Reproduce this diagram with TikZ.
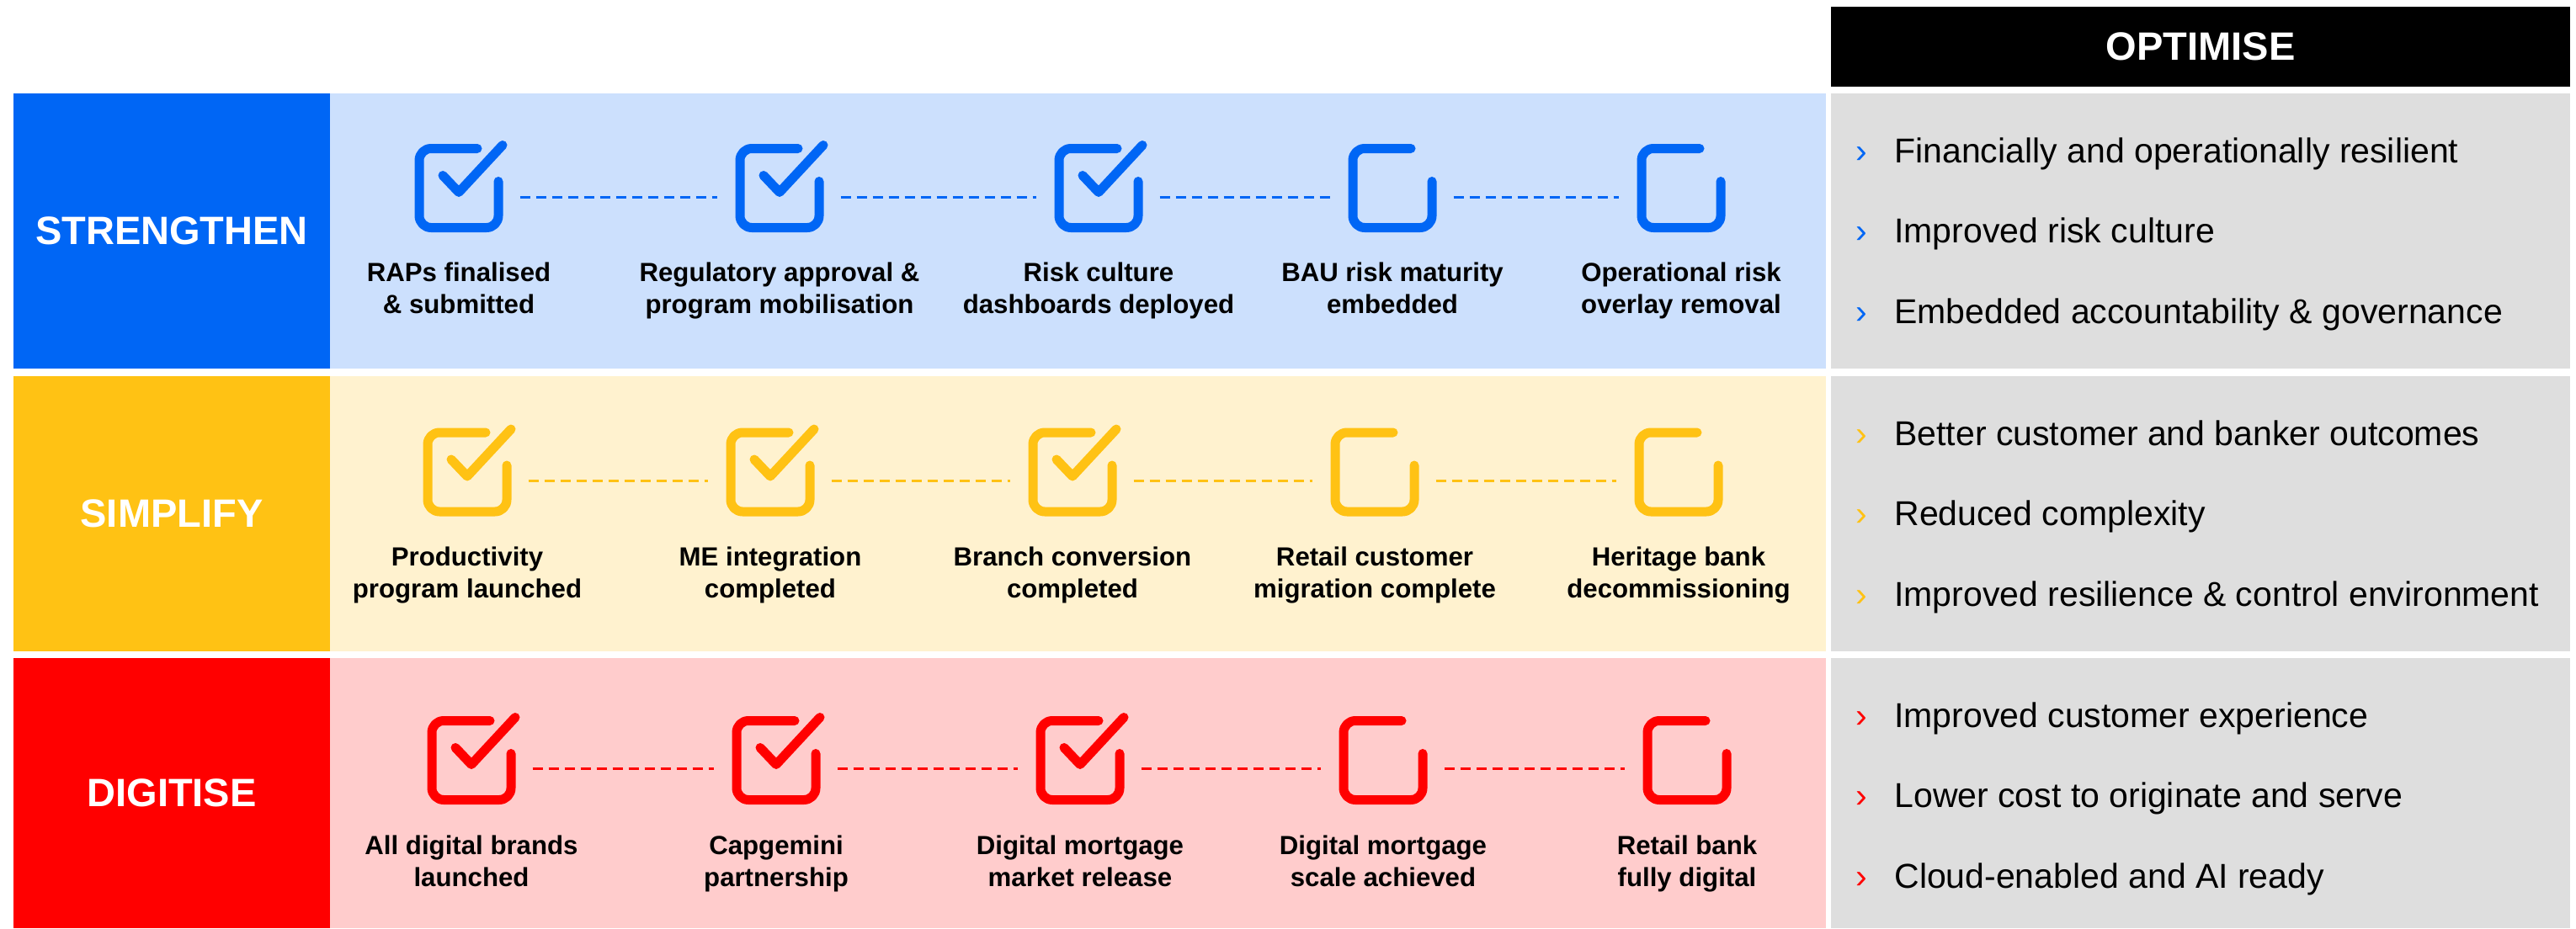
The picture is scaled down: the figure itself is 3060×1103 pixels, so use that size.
\documentclass[tikz,border=0pt]{standalone}
\usepackage{fontspec}
\setmainfont{Liberation Sans}
\usetikzlibrary{positioning}

\definecolor{strblue}{HTML}{0066F5}
\definecolor{strlight}{HTML}{CCE0FD}
\definecolor{simyellow}{HTML}{FFC214}
\definecolor{simlight}{HTML}{FFF2CF}
\definecolor{digred}{HTML}{FF0000}
\definecolor{diglight}{HTML}{FFCCCC}
\definecolor{optgrey}{HTML}{DEDEDE}

\def\msfont{\fontsize{15.6pt}{19pt}\selectfont\bfseries}
\def\bulletfont{\fontsize{20.5pt}{24pt}\selectfont}
\def\headfont{\fontsize{23.5pt}{28pt}\selectfont\bfseries}

\begin{document}
\begin{tikzpicture}[x=0.5pt,y=-0.5pt]
	\tikzstyle{head}=[inner sep=0pt, outer sep=0pt, text=white, font=\headfont]
	\tikzstyle{band}=[inner sep=0pt, outer sep=0pt, minimum width=888.5pt]
	\tikzstyle{goal}=[inner sep=0pt, outer sep=0pt, fill=optgrey, minimum width=439pt]
	\tikzstyle{mstone}=[inner sep=0pt, outer sep=0pt, minimum size=52.5pt]
	\tikzstyle{boxline}=[line width=5.5pt, line cap=round, line join=round, rounded corners=7pt]
	\tikzstyle{tick}=[line width=5.5pt, line cap=round, line join=round]
	\tikzstyle{dashline}=[line width=1.5pt, dash pattern=on 6pt off 3.5pt]
	\tikzstyle{mlabel}=[inner sep=0pt, anchor=north, align=center, font=\msfont]
	\tikzstyle{chev}=[inner sep=0pt, anchor=base west, font=\bulletfont]
	\tikzstyle{goaltext}=[inner sep=0pt, anchor=base west, font=\bulletfont]

	\useasboundingbox (0,0) rectangle (3060,1103);

	% Header over the goal column
	\node[head, fill=black, minimum width=439pt, minimum height=47.5pt] (OPT) at (2614,55.5) {OPTIMISE};

	% Row labels
	\node[head, fill=strblue, minimum width=188pt, minimum height=163.5pt] (L-1) at (204,274.5) {STRENGTHEN};
	\node[head, fill=simyellow, minimum width=188pt, minimum height=163.5pt] (L-2) at (204,610.5) {SIMPLIFY};
	\node[head, fill=digred, minimum width=188pt, minimum height=160.5pt] (L-3) at (204,942.5) {DIGITISE};

	% Milestone bands
	\node[band, fill=strlight, minimum height=163.5pt] (B-1) at (1280.5,274.5) {};
	\node[band, fill=simlight, minimum height=163.5pt] (B-2) at (1280.5,610.5) {};
	\node[band, fill=diglight, minimum height=160.5pt] (B-3) at (1280.5,942.5) {};

	% Goal panels
	\node[goal, minimum height=163.5pt] (G-1) at (2614,274.5) {};
	\node[goal, minimum height=163.5pt] (G-2) at (2614,610.5) {};
	\node[goal, minimum height=160.5pt] (G-3) at (2614,942.5) {};

	% Strengthen milestones
	\foreach \i/\x/\txt in {1/545/{RAPs finalised\\\& submitted}, 2/926/{Regulatory approval \&\\program mobilisation}, 3/1305/{Risk culture\\dashboards deployed}, 4/1654/{BAU risk maturity\\embedded}, 5/1997/{Operational risk\\overlay removal}}{
		\node[mstone] (S-\i) at (\x,223.5) {};
		\draw[boxline, strblue, shift={(S-\i.center)}] (22,-47) -- (-47,-47) -- (-47,47) -- (47,47) -- (47,-8);
		\ifnum\i<4
		\draw[tick, strblue, shift={(S-\i.center)}] (-19,-15) -- (0,5) -- (52,-51);
		\fi
		\node[mlabel] (SL-\i) at (\x,311) {\txt};
	}
	\foreach \i/\j in {1/2,2/3,3/4,4/5}
	\draw[dashline, strblue] ([shift={(20,11)}]S-\i.east) -- ([shift={(-22,11)}]S-\j.west);

	% Simplify milestones
	\foreach \i/\x/\txt in {1/555/{Productivity\\program launched}, 2/915/{ME integration\\completed}, 3/1274/{Branch conversion\\completed}, 4/1633/{Retail customer\\migration complete}, 5/1994/{Heritage bank\\decommissioning}}{
		\node[mstone] (Y-\i) at (\x,561) {};
		\draw[boxline, simyellow, shift={(Y-\i.center)}] (22,-47) -- (-47,-47) -- (-47,47) -- (47,47) -- (47,-8);
		\ifnum\i<4
		\draw[tick, simyellow, shift={(Y-\i.center)}] (-19,-15) -- (0,5) -- (52,-51);
		\fi
		\node[mlabel] (YL-\i) at (\x,649) {\txt};
	}
	\foreach \i/\j in {1/2,2/3,3/4,4/5}
	\draw[dashline, simyellow] ([shift={(20,10)}]Y-\i.east) -- ([shift={(-22,10)}]Y-\j.west);

	% Digitise milestones
	\foreach \i/\x/\txt in {1/560/{All digital brands\\launched}, 2/922/{Capgemini\\partnership}, 3/1283/{Digital mortgage\\market release}, 4/1643/{Digital mortgage\\scale achieved}, 5/2004/{Retail bank\\fully digital}}{
		\node[mstone] (D-\i) at (\x,903.5) {};
		\draw[boxline, digred, shift={(D-\i.center)}] (22,-47) -- (-47,-47) -- (-47,47) -- (47,47) -- (47,-8);
		\ifnum\i<4
		\draw[tick, digred, shift={(D-\i.center)}] (-19,-15) -- (0,5) -- (52,-51);
		\fi
		\node[mlabel] (DL-\i) at (\x,992) {\txt};
	}
	\foreach \i/\j in {1/2,2/3,3/4,4/5}
	\draw[dashline, digred] ([shift={(20,10)}]D-\i.east) -- ([shift={(-22,10)}]D-\j.west);

	% Goals for each row
	\foreach \k/\y/\txt in {1/193/Financially and operationally resilient, 2/288/Improved risk culture, 3/384/Embedded accountability \& governance}{
		\node[chev, strblue] (SC-\k) at (2204,\y) {›};
		\node[goaltext] (SG-\k) at (2250,\y) {\txt};
	}
	\foreach \k/\y/\txt in {1/529/Better customer and banker outcomes, 2/624/Reduced complexity, 3/720/Improved resilience \& control environment}{
		\node[chev, simyellow] (YC-\k) at (2204,\y) {›};
		\node[goaltext] (YG-\k) at (2250,\y) {\txt};
	}
	\foreach \k/\y/\txt in {1/864/Improved customer experience, 2/959/Lower cost to originate and serve, 3/1055/Cloud-enabled and AI ready}{
		\node[chev, digred] (DC-\k) at (2204,\y) {›};
		\node[goaltext] (DG-\k) at (2250,\y) {\txt};
	}

\end{tikzpicture}
\end{document}
